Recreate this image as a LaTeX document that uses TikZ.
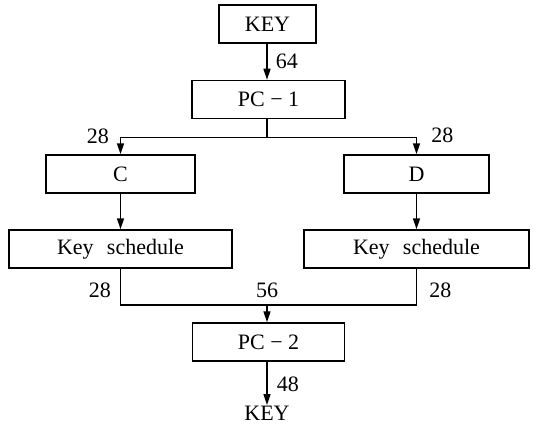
\documentclass[tikz,border=0pt]{standalone}
\usepackage{fontspec}
\setmainfont{Liberation Serif}
\usetikzlibrary{arrows.meta}
\begin{document}
\begin{tikzpicture}[x=1pt,y=-1pt,line width=1.5pt,
  box/.style={draw,minimum height=38pt,inner sep=0pt,font=\fontsize{22}{25}\selectfont},
  lbl/.style={font=\fontsize{22}{25}\selectfont,inner sep=0pt},
  >={Triangle[length=11pt,width=7pt]}]
                \useasboundingbox (0,0) rectangle (537,425);
                \node[box,minimum width=97pt] (key) at (267.5,24) {KEY};
                \node[box,minimum width=153pt] (pc1) at (268.5,99.5) {PC − 1};
                \node[box,minimum width=149pt] (c) at (120.5,174) {C};
                \node[box,minimum width=145pt] (d) at (416.5,174) {D};
                \node[box,minimum width=223pt] (ksl) at (120.5,249) {Key\hspace{0.6em}schedule};
                \node[box,minimum width=225pt] (ksr) at (416.5,249) {Key\hspace{0.6em}schedule};
                \node[box,minimum width=152pt] (pc2) at (268.5,342) {PC − 2};
                \node[lbl] (out) at (267,413) {KEY};
                \coordinate (split) at (267,137.5);
                \coordinate (join) at (267,305);
                \draw[->] (split |- key.south) -- (split |- pc1.north) node[midway,lbl,right=8pt]{64};
                \draw (split |- pc1.south) -- (split);
                \draw[->] (split) -| (c) node[pos=0.5,lbl,left=11pt,yshift=1pt]{28};
                \draw[->] (split) -| (d) node[pos=0.5,lbl,right=14pt,yshift=2pt]{28};
                \draw[->] (c) -- (ksl);
                \draw[->] (d) -- (ksr);
                \draw (ksl.south -| c) |- (join) node[pos=0.3,lbl,left=9pt]{28};
                \draw (ksr.south -| d) |- (join) node[pos=0.3,lbl,right=12pt]{28};
                \draw[->] (join) -- (join |- pc2.north) node[at start,lbl,above=7pt]{56};
                \draw[->] (join |- pc2.south) -- (out.north) node[midway,lbl,right=9pt,yshift=-1pt]{48};
            \end{tikzpicture}
\end{document}
